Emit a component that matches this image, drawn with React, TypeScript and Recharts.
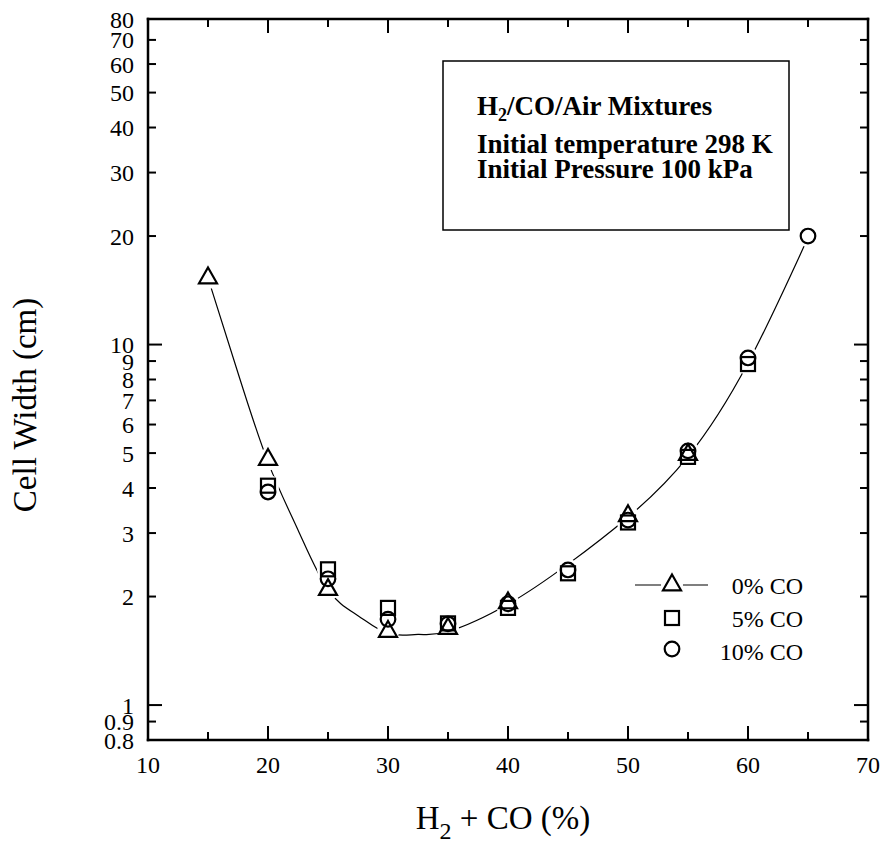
import React from 'react';
import { ComposedChart, Line, Scatter, XAxis, YAxis } from 'recharts';

const FONT = '"Liberation Serif", "Times New Roman", Times, serif';

// Cell width (cm) against H2 + CO concentration (%), one pair of arrays per CO fraction
const h2co0 = [15, 20, 25, 30, 35, 40, 50, 55];
const width0 = [15.3, 4.8, 2.09, 1.6, 1.63, 1.92, 3.35, 4.95];

const h2co5 = [20, 25, 30, 35, 40, 45, 50, 55, 60];
const width5 = [4.06, 2.38, 1.86, 1.685, 1.86, 2.32, 3.21, 4.88, 8.83];

const h2co10 = [20, 25, 30, 35, 40, 45, 50, 55, 60, 65];
const width10 = [3.9, 2.24, 1.73, 1.68, 1.91, 2.37, 3.26, 5.07, 9.18, 20];

// Trend curve through the measurements
const fitX = [15, 17.5, 20, 22.5, 25, 27.5, 30, 32.5, 35, 40, 45, 50, 55, 60, 65];
const fitY = [15.3, 8.34, 4.72, 3.06, 2.09, 1.77, 1.58, 1.57, 1.6, 1.905, 2.46, 3.32, 4.89, 8.89, 19.8];

const X_MIN = 10;
const X_MAX = 70;
const Y_MIN = 0.8;
const Y_MAX = 80;
const xTicks = [10, 15, 20, 25, 30, 35, 40, 45, 50, 55, 60, 65, 70];
const yTicks = [0.8, 0.9, 1, 2, 3, 4, 5, 6, 7, 8, 9, 10, 20, 30, 40, 50, 60, 70, 80];
const yMajor = [1, 10];

const legendLabels = ['0% CO', '5% CO', '10% CO'];

const zip = (xs: number[], ys: number[]) => xs.map((x, i) => ({ x, y: ys[i] }));
const pts0 = zip(h2co0, width0);
const pts5 = zip(h2co5, width5);
const pts10 = zip(h2co10, width10);
const fit = zip(fitX, fitY);

// Frame edges and tick anchor points, all in data units
const frameBottom = [{ x: X_MIN, y: Y_MIN }, { x: X_MAX, y: Y_MIN }];
const frameTop = [{ x: X_MIN, y: Y_MAX }, { x: X_MAX, y: Y_MAX }];
const frameLeft = [{ x: X_MIN, y: Y_MIN }, { x: X_MIN, y: Y_MAX }];
const frameRight = [{ x: X_MAX, y: Y_MIN }, { x: X_MAX, y: Y_MAX }];
const ticksBottom = xTicks.map((x) => ({ x, y: Y_MIN }));
const ticksTop = xTicks.map((x) => ({ x, y: Y_MAX }));
const ticksLeft = yTicks.map((y) => ({ x: X_MIN, y }));
const ticksRight = yTicks.map((y) => ({ x: X_MAX, y }));

const W = 885;
const H = 846;
const LONG = 14;
const SHORT = 8;
const INK = '#000';
const FRAME = 2.5;

const xLen = (v: number) => (v % 10 === 0 ? LONG : SHORT);
const yLen = (v: number) => (yMajor.includes(v) ? LONG : SHORT);

// Inward tick marks
const MarkUp = ({ cx, cy, payload }: any) => (
  <line x1={cx} x2={cx} y1={cy} y2={cy - xLen(payload.x)} stroke={INK} strokeWidth={2} />
);
const MarkDown = ({ cx, cy, payload }: any) => (
  <line x1={cx} x2={cx} y1={cy} y2={cy + xLen(payload.x)} stroke={INK} strokeWidth={2} />
);
const MarkRight = ({ cx, cy, payload }: any) => (
  <line x1={cx} x2={cx + yLen(payload.y)} y1={cy} y2={cy} stroke={INK} strokeWidth={2} />
);
const MarkLeft = ({ cx, cy, payload }: any) => (
  <line x1={cx} x2={cx - yLen(payload.y)} y1={cy} y2={cy} stroke={INK} strokeWidth={2} />
);

// Tick labels
const BottomLabel = (p: any) => {
  const v = p.payload.value;
  if (v % 10 !== 0) return <g />;
  return (
    <text x={p.x} y={p.y + 33} textAnchor="middle" fontSize={24} fontFamily={FONT} fill={INK}>
      {v}
    </text>
  );
};

const LeftLabel = (p: any) => (
  <text x={p.x - 14} y={p.y + 8.5} textAnchor="end" fontSize={24} fontFamily={FONT} fill={INK}>
    {p.payload.value}
  </text>
);

// Marker outlines
const Tri = ({ cx, cy }: any) => (
  <path
    d={`M${cx},${cy - 10.5}L${cx + 9},${cy + 5.3}L${cx - 9},${cy + 5.3}Z`}
    fill="none"
    stroke={INK}
    strokeWidth={2.2}
  />
);
const Sq = ({ cx, cy }: any) => (
  <rect x={cx - 7} y={cy - 7} width={14} height={14} fill="none" stroke={INK} strokeWidth={2.2} />
);
const Circ = ({ cx, cy }: any) => <circle cx={cx} cy={cy} r={7.3} fill="none" stroke={INK} strokeWidth={2.2} />;

// White disc that opens a gap in the trend curve around each marker
const Halo = ({ cx, cy }: any) => <circle cx={cx} cy={cy} r={11} fill="#fff" />;

// Text box, legend and axis titles, drawn on top of the chart
const Annotations = () => (
  <svg
    width={W}
    height={H}
    style={{ position: 'absolute', left: 0, top: 0, pointerEvents: 'none' }}
    fontFamily={FONT}
  >
    <rect x={443} y={61} width={346} height={169} fill="none" stroke={INK} strokeWidth={1.5} />
    <g fontSize={27} fontWeight="bold" fill={INK}>
      <text x={477} y={115}>
        H<tspan fontSize={18} dy={6}>2</tspan>
        <tspan dy={-6}>/CO/Air Mixtures</tspan>
      </text>
      <text x={477} y={153}>Initial temperature 298 K</text>
      <text x={477} y={178}>Initial Pressure 100 kPa</text>
    </g>

    <g>
      <line x1={635} x2={708} y1={585} y2={585} stroke={INK} strokeWidth={1.2} />
      <Halo cx={672} cy={585} />
      <Tri cx={672} cy={585} />
      <Sq cx={672} cy={618} />
      <Circ cx={672} cy={649} />
      {legendLabels.map((t, i) => (
        <text key={t} x={803} y={594 + i * 33} textAnchor="end" fontSize={24} fill={INK}>
          {t}
        </text>
      ))}
    </g>

    <text x={503} y={829} textAnchor="middle" fontSize={33} fill={INK}>
      H<tspan fontSize={24} dy={10}>2</tspan>
      <tspan dy={-10}> + CO (%)</tspan>
    </text>
    <text x={36} y={405} textAnchor="middle" fontSize={33} fill={INK} transform="rotate(-90 36 405)">
      Cell Width (cm)
    </text>
  </svg>
);

const frameLine = (data: { x: number; y: number }[], key: string) => (
  <Line
    key={key}
    data={data}
    dataKey="y"
    type="linear"
    stroke={INK}
    strokeWidth={FRAME}
    strokeLinecap="square"
    dot={false}
    activeDot={false}
    isAnimationActive={false}
  />
);

export default function App() {
  return (
    <div style={{ position: 'absolute', left: 0, top: 0, width: W, height: H }}>
      <ComposedChart width={W} height={H} margin={{ top: 19, right: 17, bottom: 0, left: 0 }}>
        <XAxis
          type="number"
          dataKey="x"
          domain={[X_MIN, X_MAX]}
          ticks={xTicks}
          interval={0}
          height={106}
          tickSize={0}
          tickMargin={0}
          tickLine={false}
          axisLine={false}
          tick={BottomLabel}
        />
        <YAxis
          type="number"
          dataKey="y"
          scale="log"
          domain={[Y_MIN, Y_MAX]}
          ticks={yTicks}
          interval={0}
          width={148}
          tickSize={0}
          tickMargin={0}
          tickLine={false}
          axisLine={false}
          tick={LeftLabel}
        />

        {frameLine(frameBottom, 'fb')}
        {frameLine(frameTop, 'ft')}
        {frameLine(frameLeft, 'fl')}
        {frameLine(frameRight, 'fr')}

        <Scatter data={ticksBottom} dataKey="y" shape={MarkUp} isAnimationActive={false} />
        <Scatter data={ticksTop} dataKey="y" shape={MarkDown} isAnimationActive={false} />
        <Scatter data={ticksLeft} dataKey="y" shape={MarkRight} isAnimationActive={false} />
        <Scatter data={ticksRight} dataKey="y" shape={MarkLeft} isAnimationActive={false} />

        <Line
          data={fit}
          dataKey="y"
          type="natural"
          stroke={INK}
          strokeWidth={1.2}
          dot={false}
          activeDot={false}
          isAnimationActive={false}
        />

        <Scatter data={pts0} dataKey="y" shape={Halo} isAnimationActive={false} />
        <Scatter data={pts5} dataKey="y" shape={Halo} isAnimationActive={false} />
        <Scatter data={pts10} dataKey="y" shape={Halo} isAnimationActive={false} />

        <Scatter data={pts0} dataKey="y" shape={Tri} isAnimationActive={false} />
        <Scatter data={pts5} dataKey="y" shape={Sq} isAnimationActive={false} />
        <Scatter data={pts10} dataKey="y" shape={Circ} isAnimationActive={false} />
      </ComposedChart>
      <Annotations />
    </div>
  );
}
